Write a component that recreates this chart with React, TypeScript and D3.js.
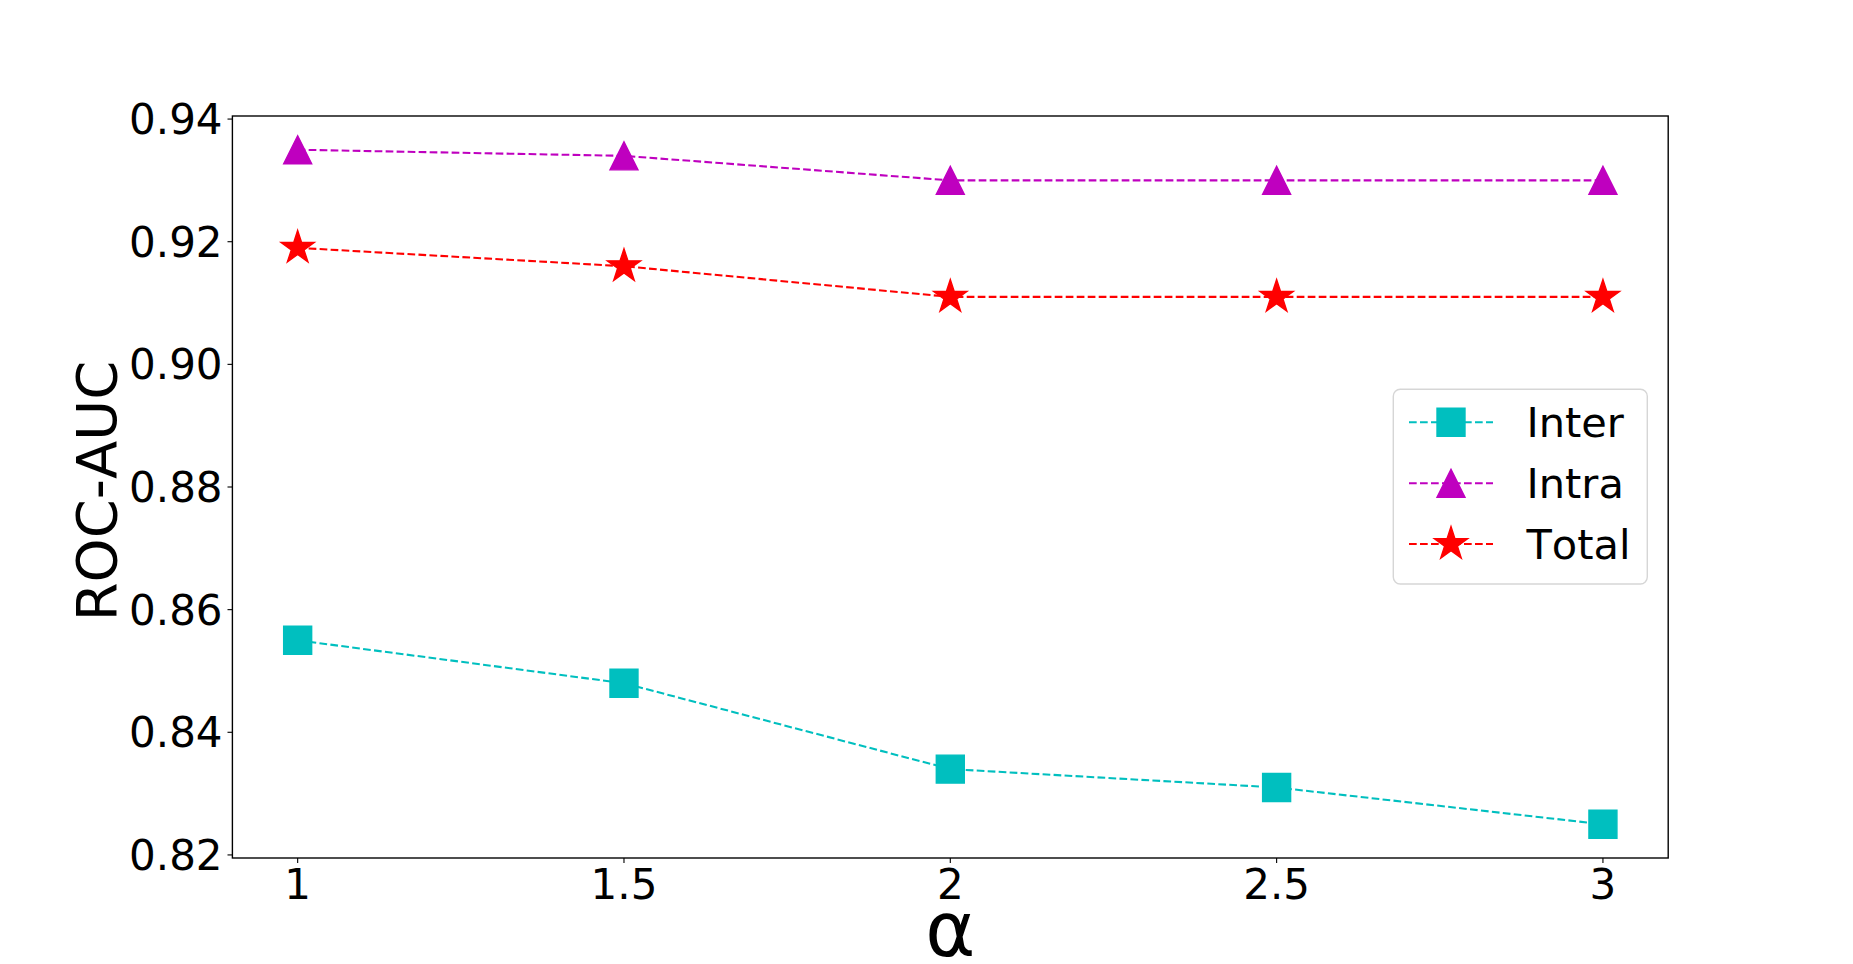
import React from "react";
import * as d3 from "d3";

const alphas = [1, 1.5, 2, 2.5, 3];
const xTickLabels = ["1", "1.5", "2", "2.5", "3"];
const interValues = [0.855, 0.848, 0.834, 0.831, 0.825];
const intraValues = [0.935, 0.934, 0.93, 0.93, 0.93];
const totalValues = [0.919, 0.916, 0.911, 0.911, 0.911];
const yTicks = [0.82, 0.84, 0.86, 0.88, 0.9, 0.92, 0.94];
const seriesNames = ["Inter", "Intra", "Total"];
const seriesColors = ["#00bfbf", "#bf00bf", "#ff0000"];
const seriesMarkers = ["square", "triangle", "star"];

const W = 1853;
const H = 964;
const L = 232.4;
const R = 1668.2;
const T = 116;
const B = 858;
const FONT = "'DejaVu Sans', sans-serif";

function markerPath(kind: string, cx: number, cy: number): string {
  if (kind === "square") {
    const h = 14;
    return `M${cx - h},${cy - h}H${cx + h}V${cy + h}H${cx - h}Z`;
  }
  if (kind === "triangle") {
    const h = 14;
    return `M${cx},${cy - h}L${cx + h},${cy + h}L${cx - h},${cy + h}Z`;
  }
  const ro = 17.5;
  const ri = ro * 0.381966;
  const pts: string[] = [];
  for (let k = 0; k < 10; k++) {
    const a = -Math.PI / 2 + (k * Math.PI) / 5;
    const r = k % 2 === 0 ? ro : ri;
    pts.push(`${cx + r * Math.cos(a)},${cy + r * Math.sin(a)}`);
  }
  return "M" + pts.join("L") + "Z";
}

export default function App() {
  const x = d3.scaleLinear().domain([0.9, 3.1]).range([L, R]);
  const y = d3.scaleLinear().domain([0.8195, 0.9405]).range([B, T]);
  const series = [interValues, intraValues, totalValues];
  const line = d3
    .line<number>()
    .x((_, i) => x(alphas[i]))
    .y((v) => y(v));

  const legX0 = 1409;
  const legX1 = 1493;
  const legMid = 1451;
  const legRows = [422.3, 483.3, 544];

  return (
    <svg
      width={W}
      height={H}
      style={{ position: "absolute", left: 0, top: 0, background: "#fff", fontKerning: "none" }}
      fontFamily={FONT}
    >
      <rect x={0} y={0} width={W} height={H} fill="#fff" />
      {series.map((vals, si) => (
        <g key={si}>
          <path
            d={line(vals) || ""}
            fill="none"
            stroke={seriesColors[si]}
            strokeWidth={2.08}
            strokeDasharray="7.7 3.3"
          />
          {vals.map((v, i) => (
            <path
              key={i}
              d={markerPath(seriesMarkers[si], x(alphas[i]), y(v))}
              fill={seriesColors[si]}
              stroke={seriesColors[si]}
              strokeWidth={1.39}
            />
          ))}
        </g>
      ))}
      <rect x={L} y={T} width={R - L} height={B - T} fill="none" stroke="#000" strokeWidth={1.39} />
      {yTicks.map((t) => (
        <g key={t}>
          <line x1={L - 4.9} x2={L} y1={y(t)} y2={y(t)} stroke="#000" strokeWidth={1.11} />
          <text x={L - 9.8} y={y(t)} dy="0.36em" textAnchor="end" fontSize={42} fill="#000">
            {t.toFixed(2)}
          </text>
        </g>
      ))}
      {alphas.map((a, i) => (
        <g key={a}>
          <line x1={x(a)} x2={x(a)} y1={B} y2={B + 4.9} stroke="#000" strokeWidth={1.11} />
          <text x={x(a)} y={899} textAnchor="middle" fontSize={42} fill="#000">
            {xTickLabels[i]}
          </text>
        </g>
      ))}
      <text x={(L + R) / 2} y={956} textAnchor="middle" fontSize={76} fill="#000">
        α
      </text>
      <text
        transform={`translate(116, ${(T + B) / 2 + 4}) rotate(-90)`}
        textAnchor="middle"
        fontSize={56}
        fill="#000"
      >
        ROC-AUC
      </text>
      <rect
        x={1393.3}
        y={389.3}
        width={254}
        height={194.7}
        rx={7}
        ry={7}
        fill="#fff"
        fillOpacity={0.8}
        stroke="#cccccc"
        strokeOpacity={0.8}
        strokeWidth={1.39}
      />
      {seriesNames.map((name, si) => (
        <g key={name}>
          <line
            x1={legX0}
            x2={legX1}
            y1={legRows[si]}
            y2={legRows[si]}
            stroke={seriesColors[si]}
            strokeWidth={2.08}
            strokeDasharray="7.7 3.3"
          />
          <path
            d={markerPath(seriesMarkers[si], legMid, legRows[si])}
            fill={seriesColors[si]}
            stroke={seriesColors[si]}
            strokeWidth={1.39}
          />
          <text x={1526.5} y={legRows[si] + 15} fontSize={41.5} fill="#000">
            {name}
          </text>
        </g>
      ))}
    </svg>
  );
}
